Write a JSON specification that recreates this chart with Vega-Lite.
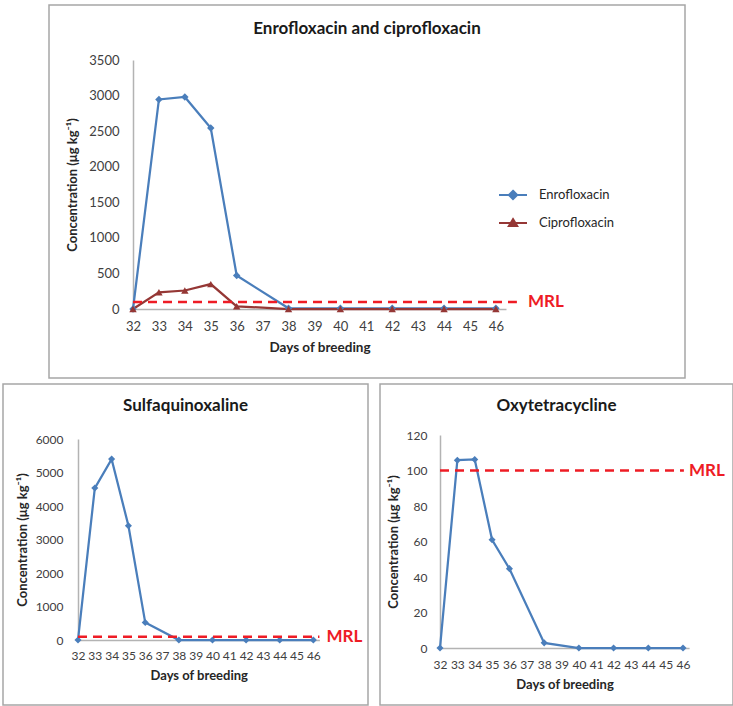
{
  "$schema": "https://vega.github.io/schema/vega-lite/v6.json",
  "padding": {"left": 2, "top": 4, "right": 0, "bottom": 0},
  "background": "white",
  "datasets": {
    "fluoro": [
      {"series": "Enrofloxacin", "day": 32, "value": 0},
      {"series": "Enrofloxacin", "day": 33, "value": 2945},
      {"series": "Enrofloxacin", "day": 34, "value": 2980},
      {"series": "Enrofloxacin", "day": 35, "value": 2545},
      {"series": "Enrofloxacin", "day": 36, "value": 470},
      {"series": "Enrofloxacin", "day": 38, "value": 10},
      {"series": "Enrofloxacin", "day": 40, "value": 10},
      {"series": "Enrofloxacin", "day": 42, "value": 10},
      {"series": "Enrofloxacin", "day": 44, "value": 10},
      {"series": "Enrofloxacin", "day": 46, "value": 10},
      {"series": "Ciprofloxacin", "day": 32, "value": 0},
      {"series": "Ciprofloxacin", "day": 33, "value": 235},
      {"series": "Ciprofloxacin", "day": 34, "value": 260},
      {"series": "Ciprofloxacin", "day": 35, "value": 350},
      {"series": "Ciprofloxacin", "day": 36, "value": 38},
      {"series": "Ciprofloxacin", "day": 38, "value": 0},
      {"series": "Ciprofloxacin", "day": 40, "value": 0},
      {"series": "Ciprofloxacin", "day": 42, "value": 0},
      {"series": "Ciprofloxacin", "day": 44, "value": 0},
      {"series": "Ciprofloxacin", "day": 46, "value": 0}
    ],
    "sulfa": [
      {"day": 32, "value": 0},
      {"day": 33, "value": 4535},
      {"day": 34, "value": 5400},
      {"day": 35, "value": 3410},
      {"day": 36, "value": 520},
      {"day": 38, "value": 0},
      {"day": 40, "value": 0},
      {"day": 42, "value": 0},
      {"day": 44, "value": 0},
      {"day": 46, "value": 0}
    ],
    "oxy": [
      {"day": 32, "value": 0},
      {"day": 33, "value": 105.8},
      {"day": 34, "value": 106.2},
      {"day": 35, "value": 61},
      {"day": 36, "value": 44.7},
      {"day": 38, "value": 2.9},
      {"day": 40, "value": 0},
      {"day": 42, "value": 0},
      {"day": 44, "value": 0},
      {"day": 46, "value": 0}
    ],
    "mrl": [{"label": "MRL", "limit": 100}]
  },
  "spacing": 4,
  "vconcat": [
    {
      "spacing": 10,
      "hconcat": [
        {
          "width": 35, "height": 1,
          "view": {"stroke": null},
          "data": {"values": []},
          "mark": {"type": "point", "opacity": 0},
          "encoding": {}
        },
        {
          "width": 636, "height": 373,
          "view": {"stroke": "#a6a6a6", "strokeWidth": 1.5},
          "title": {"text": "Enrofloxacin and ciprofloxacin", "frame": "group", "anchor": "middle", "offset": -41, "baseline": "middle", "fontSize": 17, "fontWeight": "bold", "font": "Lato", "color": "#1a1a1a"},
          "layer": [
            {
              "data": {"name": "fluoro"},
              "mark": {"type": "line", "strokeWidth": 2.25},
              "encoding": {
                "x": {"field": "day", "type": "quantitative",
                  "scale": {"domain": [32, 46.39], "range": [84, 457], "nice": false, "zero": false},
                  "axis": {"orient": "bottom", "offset": -69, "values": [32,33,34,35,36,37,38,39,40,41,42,43,44,45,46], "tickCount": 30, "format": "d", "labelOverlap": false, "labelPadding": 11, "labelFontSize": 13, "title": "Days of breeding", "titleFontSize": 13.5, "titlePadding": 7}},
                "y": {"field": "value", "type": "quantitative",
                  "scale": {"domain": [0, 3500], "range": [304, 55], "nice": false},
                  "axis": {"orient": "left", "offset": -84, "values": [0,500,1000,1500,2000,2500,3000,3500], "tickCount": 20, "format": "d", "labelOverlap": false, "labelPadding": 14, "labelFontSize": 13, "title": "Concentration (μg kg⁻¹)", "titleFontSize": 13, "titlePadding": 9}},
                "color": {"field": "series", "type": "nominal",
                  "scale": {"domain": ["Enrofloxacin", "Ciprofloxacin"], "range": ["#4a7ebb", "#953735"]},
                  "legend": {"orient": "none", "legendX": 495, "legendY": 175, "title": null, "padding": 0, "symbolSize": 784, "labelOffset": 11, "rowPadding": 4, "labelFontSize": 13, "labelFont": "Lato", "labelColor": "#262626", "symbolStrokeWidth": 2,
                    "symbolType": {"expr": "datum.value === 'Enrofloxacin' ? 'M-1,0H1M0,-0.3L0.3,0L0,0.3L-0.3,0Z' : 'M-1,0H1M0,-0.28L0.3,0.22L-0.3,0.22Z'"},
                    "encode": {"symbols": {"update": {
                      "fill": {"signal": "datum.value === 'Enrofloxacin' ? '#4a7ebb' : '#953735'"},
                      "stroke": {"signal": "datum.value === 'Enrofloxacin' ? '#4a7ebb' : '#953735'"},
                      "strokeWidth": {"value": 2},
                      "opacity": {"value": 1},
                      "fillOpacity": {"value": 1}
                    }}}}
                }
              }
            },
            {
              "data": {"name": "fluoro"},
              "transform": [{"filter": "datum.series === 'Enrofloxacin'"}],
              "mark": {"type": "point", "filled": true, "size": 55, "opacity": 1, "shape": "diamond", "color": "#4a7ebb"},
              "encoding": {
                "x": {"field": "day", "type": "quantitative"},
                "y": {"field": "value", "type": "quantitative"}
              }
            },
            {
              "data": {"name": "fluoro"},
              "transform": [{"filter": "datum.series === 'Ciprofloxacin'"}],
              "mark": {"type": "point", "filled": true, "size": 55, "opacity": 1, "shape": "triangle-up", "color": "#953735"},
              "encoding": {
                "x": {"field": "day", "type": "quantitative"},
                "y": {"field": "value", "type": "quantitative"}
              }
            },
            {
              "data": {"name": "mrl"},
              "mark": {"type": "rule", "color": "#ee1c25", "strokeWidth": 2.5, "strokeDash": [9, 6]},
              "encoding": {
                "x": {"datum": 32, "type": "quantitative"},
                "x2": {"datum": 46.81},
                "y": {"field": "limit", "type": "quantitative"}
              }
            },
            {
              "data": {"name": "mrl"},
              "mark": {"type": "text", "align": "left", "baseline": "middle", "dx": 11, "fontSize": 17, "fontWeight": "bold", "font": "Lato", "color": "#ee1c25"},
              "encoding": {
                "x": {"datum": 46.81, "type": "quantitative"},
                "y": {"field": "limit", "type": "quantitative"},
                "text": {"field": "label"}
              }
            }
          ]
        }
      ]
    },
    {
      "spacing": 10,
      "hconcat": [
        {
          "width": 365, "height": 321,
          "view": {"stroke": "#a6a6a6", "strokeWidth": 1.5},
          "title": {"text": "Sulfaquinoxaline", "frame": "group", "anchor": "middle", "offset": -39, "baseline": "middle", "fontSize": 17, "fontWeight": "bold", "font": "Lato", "color": "#1a1a1a"},
          "layer": [
            {
              "data": {"name": "sulfa"},
              "mark": {"type": "line", "strokeWidth": 2.25, "color": "#4a7ebb"},
              "encoding": {
                "x": {"field": "day", "type": "quantitative",
                  "scale": {"domain": [32, 46.36], "range": [75, 316.4], "nice": false, "zero": false},
                  "axis": {"orient": "bottom", "offset": -65, "values": [32,33,34,35,36,37,38,39,40,41,42,43,44,45,46], "tickCount": 30, "format": "d", "labelOverlap": false, "labelPadding": 10, "labelFontSize": 12, "title": "Days of breeding", "titleFontSize": 13, "titlePadding": 8}},
                "y": {"field": "value", "type": "quantitative",
                  "scale": {"domain": [0, 6000], "range": [256, 55], "nice": false},
                  "axis": {"orient": "left", "offset": -75, "values": [0,1000,2000,3000,4000,5000,6000], "tickCount": 20, "format": "d", "labelOverlap": false, "labelPadding": 15, "labelFontSize": 12, "title": "Concentration (μg kg⁻¹)", "titleFontSize": 13, "titlePadding": 6}}
              }
            },
            {
              "data": {"name": "sulfa"},
              "mark": {"type": "point", "filled": true, "size": 50, "opacity": 1, "shape": "diamond", "color": "#4a7ebb"},
              "encoding": {
                "x": {"field": "day", "type": "quantitative"},
                "y": {"field": "value", "type": "quantitative"}
              }
            },
            {
              "data": {"name": "mrl"},
              "mark": {"type": "rule", "color": "#ee1c25", "strokeWidth": 2.5, "strokeDash": [9, 6]},
              "encoding": {
                "x": {"datum": 32, "type": "quantitative"},
                "x2": {"datum": 46.36},
                "y": {"field": "limit", "type": "quantitative"}
              }
            },
            {
              "data": {"name": "mrl"},
              "mark": {"type": "text", "align": "left", "baseline": "middle", "dx": 7, "fontSize": 17, "fontWeight": "bold", "font": "Lato", "color": "#ee1c25"},
              "encoding": {
                "x": {"datum": 46.36, "type": "quantitative"},
                "y": {"field": "limit", "type": "quantitative"},
                "text": {"field": "label"}
              }
            }
          ]
        },
        {
          "width": 353, "height": 321,
          "view": {"stroke": "#a6a6a6", "strokeWidth": 1.5},
          "title": {"text": "Oxytetracycline", "frame": "group", "anchor": "middle", "offset": -39, "baseline": "middle", "fontSize": 17, "fontWeight": "bold", "font": "Lato", "color": "#1a1a1a"},
          "layer": [
            {
              "data": {"name": "oxy"},
              "mark": {"type": "line", "strokeWidth": 2.25, "color": "#4a7ebb"},
              "encoding": {
                "x": {"field": "day", "type": "quantitative",
                  "scale": {"domain": [32, 46.35], "range": [60, 309.1], "nice": false, "zero": false},
                  "axis": {"orient": "bottom", "offset": -57, "values": [32,33,34,35,36,37,38,39,40,41,42,43,44,45,46], "tickCount": 30, "format": "d", "labelOverlap": false, "labelPadding": 11, "labelFontSize": 12, "title": "Days of breeding", "titleFontSize": 13, "titlePadding": 8}},
                "y": {"field": "value", "type": "quantitative",
                  "scale": {"domain": [0, 120], "range": [264, 51], "nice": false},
                  "axis": {"orient": "left", "offset": -60, "values": [0,20,40,60,80,100,120], "tickCount": 20, "format": "d", "labelOverlap": false, "labelPadding": 13, "labelFontSize": 12, "title": "Concentration (μg kg⁻¹)", "titleFontSize": 13, "titlePadding": 6}}
              }
            },
            {
              "data": {"name": "oxy"},
              "mark": {"type": "point", "filled": true, "size": 50, "opacity": 1, "shape": "diamond", "color": "#4a7ebb"},
              "encoding": {
                "x": {"field": "day", "type": "quantitative"},
                "y": {"field": "value", "type": "quantitative"}
              }
            },
            {
              "data": {"name": "mrl"},
              "mark": {"type": "rule", "color": "#ee1c25", "strokeWidth": 2.5, "strokeDash": [9, 6]},
              "encoding": {
                "x": {"datum": 32, "type": "quantitative"},
                "x2": {"datum": 46.05},
                "y": {"field": "limit", "type": "quantitative"}
              }
            },
            {
              "data": {"name": "mrl"},
              "mark": {"type": "text", "align": "left", "baseline": "middle", "dx": 5, "fontSize": 17, "fontWeight": "bold", "font": "Lato", "color": "#ee1c25"},
              "encoding": {
                "x": {"datum": 46.05, "type": "quantitative"},
                "y": {"field": "limit", "type": "quantitative"},
                "text": {"field": "label"}
              }
            }
          ]
        }
      ]
    }
  ],
  "config": {
    "font": "Lato",
    "view": {"stroke": null},
    "axis": {"ticks": false, "tickSize": 0, "grid": false, "domainColor": "#b3b3b3", "domainWidth": 1.5, "labelColor": "#404040", "titleColor": "#262626", "titleFontWeight": "bold", "labelFont": "Lato", "titleFont": "Lato", "labelFlush": false}
  }
}
